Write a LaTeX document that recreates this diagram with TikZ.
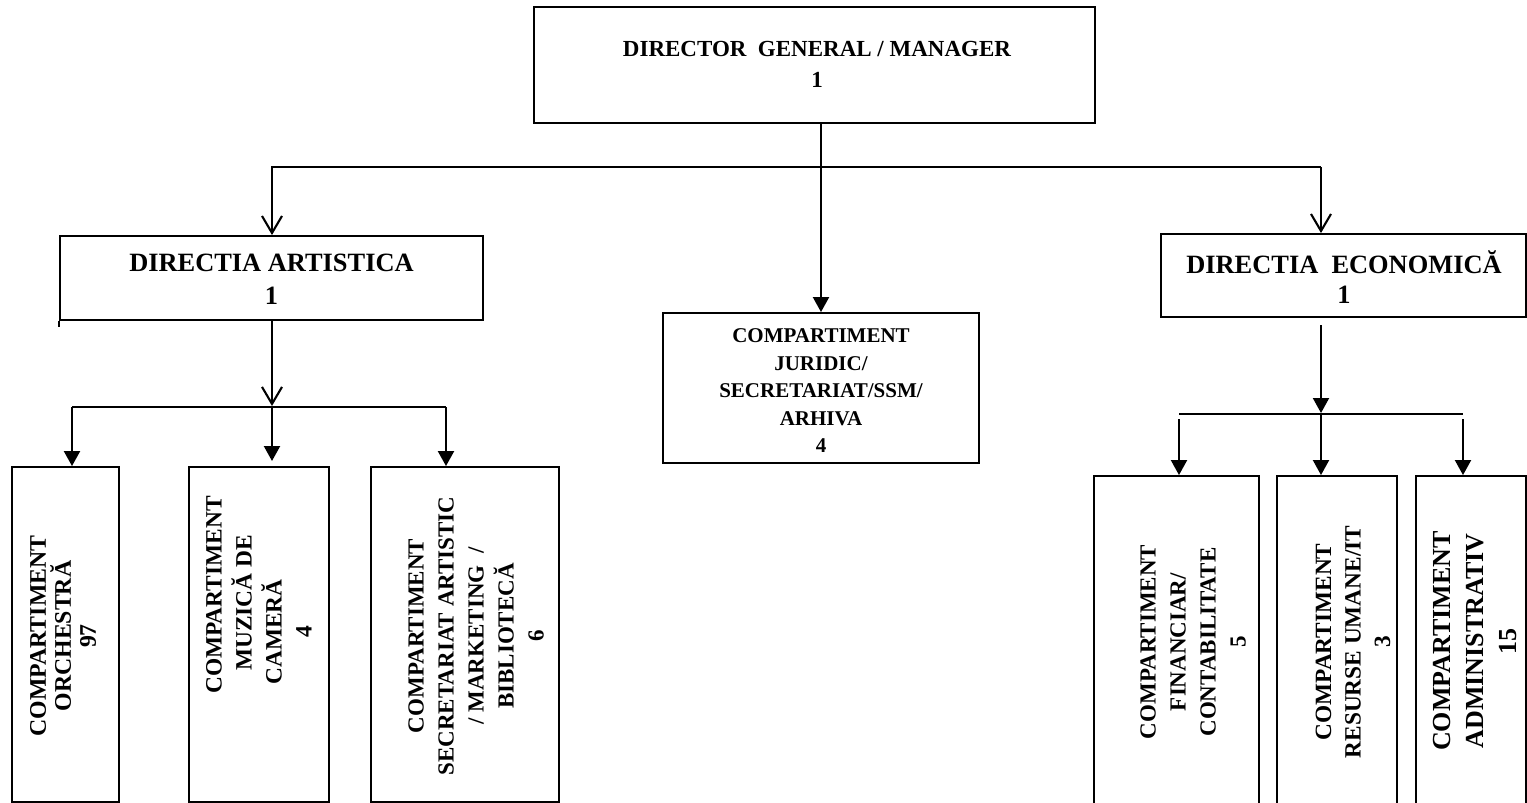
\documentclass[tikz,border=0pt]{standalone}
\usepackage{fontspec}
\setmainfont{Liberation Serif}
\usetikzlibrary{arrows.meta}
\begin{document}
\begin{tikzpicture}[x=1pt,y=-1pt,
  box/.style n args={2}{draw, line width=1.9pt, inner sep=0pt, minimum width=#1, minimum height=#2},
  txt/.style={inner sep=0pt, align=center},
  conn/.style={line width=2.1pt},
  hline/.style={line width=1.6pt},
  oarrow/.style={-{Straight Barb[length=17pt,width=20pt]}},
  farrow/.style={-{Triangle[length=15pt,width=16pt]}}]
\useasboundingbox (0,0) rectangle (1527,803);

% boxes
\node[box={561pt}{116pt}] (dg) at (814.5,65) {};
\node[box={423pt}{84pt}] (ldir) at (271.5,278) {};
\node[box={365pt}{83pt}] (rdir) at (1343.5,275.5) {};
\node[box={316pt}{150pt}] (jur) at (821,388) {};
\node[box={107pt}{335pt}] (c1) at (65.5,634.5) {};
\node[box={140pt}{335pt}] (c2) at (259,634.5) {};
\node[box={188pt}{335pt}] (c3) at (465,634.5) {};
\node[box={165pt}{344pt}] (c4) at (1176.5,648) {};
\node[box={120pt}{344pt}] (c5) at (1337,648) {};
\node[box={110pt}{344pt}] (c6) at (1471,648) {};

% texts
\node[txt, font=\bfseries\fontsize{23}{31}\selectfont] (dgt) at (817,64) {DIRECTOR\ \ GENERAL / MANAGER\\1};
\node[txt, font=\bfseries\fontsize{26.4}{33}\selectfont] (ldirt) at (271.5,279) {DIRECTIA ARTISTICA\\1};
\node[txt, font=\bfseries\fontsize{26.4}{30}\selectfont] (rdirt) at (1344,277) {DIRECTIA\ \ ECONOMICĂ\\1};
\node[txt, font=\bfseries\fontsize{21}{27.5}\selectfont] (jurt) at (821,391) {COMPARTIMENT\\JURIDIC/\\SECRETARIAT/SSM/\\ARHIVA\\4};
\node[txt, rotate=90, font=\bfseries\fontsize{23.8}{25}\selectfont] (c1t) at (63,636) {COMPARTIMENT\\ORCHESTRĂ\\97};
\node[txt, rotate=90, font=\bfseries\fontsize{23.4}{30}\selectfont] (c2t) at (259,632) {\hspace*{74pt}COMPARTIMENT\\\hspace*{58pt}MUZICĂ DE\\CAMERĂ\\4};
\node[txt, rotate=90, font=\bfseries\fontsize{23}{30}\selectfont] (c3t) at (476,636) {COMPARTIMENT\\SECRETARIAT ARTISTIC\\/ MARKETING\ \ /\\BIBLIOTECĂ\\6};
\node[txt, rotate=90, font=\bfseries\fontsize{23}{30}\selectfont] (c4t) at (1193,642) {COMPARTIMENT\\FINANCIAR/\\CONTABILITATE\\5};
\node[txt, rotate=90, font=\bfseries\fontsize{23.3}{29.5}\selectfont] (c5t) at (1353,642) {COMPARTIMENT\\RESURSE UMANE/IT\\3};
\node[txt, rotate=90, font=\bfseries\fontsize{26}{33}\selectfont] (c6t) at (1475,641) {COMPARTIMENT\\ADMINISTRATIV\\15};

% top level connectors
\coordinate (hL) at (272,167);
\coordinate (hR) at (1321,167);
\draw[conn,farrow] (jur.north |- dg.south) -- (jur.north);
\draw[conn,oarrow] (hR) -- (hL) -- (ldir.north -| hL);
\draw[conn,oarrow] (hR) -- (rdir.north -| hR);
\draw[line width=1.9pt] (ldir.south west) -- ++(0,6);

% left branch
\coordinate (lj) at (272,406);
\coordinate (l1) at (72,407);
\coordinate (l2) at (272,407);
\coordinate (l3) at (446,407);
\coordinate (l2e) at (272,461);
\draw[conn,oarrow] (ldir.south -| lj) -- (lj);
\draw[hline] (l1) -- (l3);
\draw[conn,farrow] (l1) -- (l1 |- c1.north);
\draw[conn,farrow] (l2) -- (l2e);
\draw[conn,farrow] (l3) -- (l3 |- c3.north);

% right branch
\coordinate (rs) at (1321,325);
\coordinate (rj) at (1321,413);
\coordinate (r1h) at (1179,414);
\coordinate (r3h) at (1463,414);
\coordinate (r1) at (1179,419);
\coordinate (r2) at (1321,414);
\coordinate (r3) at (1463,419);
\draw[conn,farrow] (rs) -- (rj);
\draw[hline] (r1h) -- (r3h);
\draw[conn,farrow] (r1) -- (r1 |- c4.north);
\draw[conn,farrow] (r2) -- (r2 |- c5.north);
\draw[conn,farrow] (r3) -- (r3 |- c6.north);
\end{tikzpicture}
\end{document}
